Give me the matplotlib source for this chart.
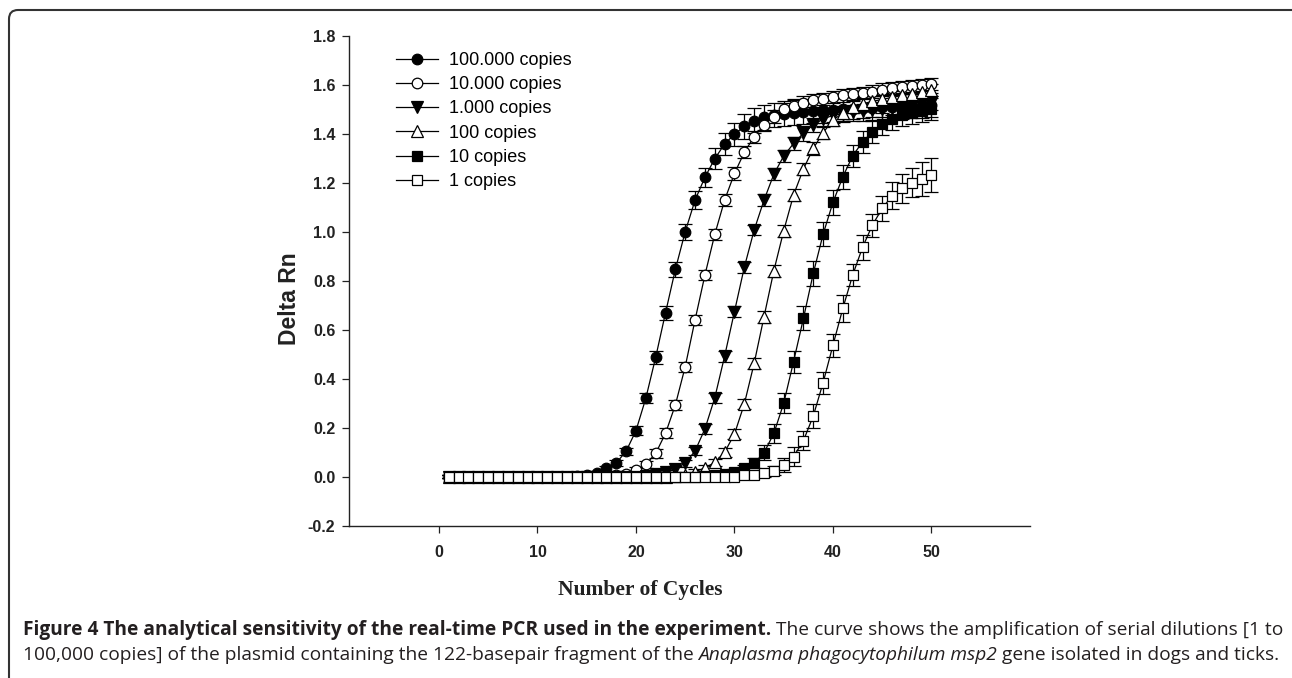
import numpy as np
import matplotlib
matplotlib.use("Agg")
import matplotlib.pyplot as plt
from matplotlib.lines import Line2D
from matplotlib.patches import FancyBboxPatch
from matplotlib.transforms import IdentityTransform

plt.rcParams['axes.unicode_minus'] = False

# cycle numbers
cycles = np.arange(1, 51)

# mean Delta Rn per cycle
rn_100000 = [0, 0, 0, 0, 0, 0, 0, 0, 0, 0,
             0, 0, 0, 0.003, 0.008, 0.016, 0.034, 0.056, 0.104, 0.188,
             0.32, 0.487, 0.669, 0.846, 1.0, 1.129, 1.222, 1.298, 1.358, 1.398,
             1.43, 1.453, 1.467, 1.476, 1.482, 1.486, 1.489, 1.492, 1.495, 1.497,
             1.499, 1.501, 1.503, 1.505, 1.507, 1.509, 1.511, 1.513, 1.515, 1.517]
rn_10000 = [0, 0, 0, 0, 0, 0, 0, 0, 0, 0,
            0, 0, 0, 0, 0, 0, 0.004, 0.008, 0.012, 0.027,
            0.05, 0.095, 0.177, 0.293, 0.449, 0.64, 0.823, 0.989, 1.129, 1.238,
            1.324, 1.388, 1.435, 1.47, 1.5, 1.515, 1.527, 1.536, 1.542, 1.549,
            1.556, 1.561, 1.566, 1.572, 1.58, 1.585, 1.59, 1.594, 1.598, 1.603]
rn_1000 = [0, 0, 0, 0, 0, 0, 0, 0, 0, 0,
           0, 0, 0, 0, 0, 0, 0, 0, 0, 0,
           0.004, 0.01, 0.018, 0.033, 0.055, 0.105, 0.195, 0.322, 0.492, 0.674,
           0.855, 1.007, 1.129, 1.235, 1.309, 1.36, 1.402, 1.436, 1.46, 1.475,
           1.482, 1.488, 1.493, 1.497, 1.5, 1.505, 1.51, 1.515, 1.52, 1.525]
rn_100 = [0, 0, 0, 0, 0, 0, 0, 0, 0, 0,
          0, 0, 0, 0, 0, 0, 0, 0, 0, 0,
          0, 0, 0, 0.003, 0.008, 0.02, 0.036, 0.058, 0.1, 0.174,
          0.297, 0.463, 0.653, 0.841, 1.004, 1.15, 1.256, 1.34, 1.404, 1.456,
          1.484, 1.51, 1.522, 1.532, 1.54, 1.548, 1.556, 1.563, 1.57, 1.578]
rn_10 = [0, 0, 0, 0, 0, 0, 0, 0, 0, 0,
         0, 0, 0, 0, 0, 0, 0, 0, 0, 0,
         0, 0, 0, 0, 0, 0, 0.004, 0.008, 0.012, 0.02,
         0.034, 0.055, 0.098, 0.177, 0.3, 0.47, 0.646, 0.83, 0.99, 1.12,
         1.224, 1.31, 1.366, 1.408, 1.438, 1.462, 1.475, 1.485, 1.492, 1.5]
rn_1 = [0, 0, 0, 0, 0, 0, 0, 0, 0, 0,
        0, 0, 0, 0, 0, 0, 0, 0, 0, 0,
        0, 0, 0, 0, 0, 0, 0, 0, 0, 0,
        0.005, 0.008, 0.014, 0.025, 0.048, 0.082, 0.147, 0.248, 0.384, 0.537,
        0.687, 0.823, 0.936, 1.027, 1.095, 1.147, 1.177, 1.2, 1.215, 1.231]

# error bar half-lengths
err_100000 = [0.005, 0.005, 0.005, 0.005, 0.005, 0.005, 0.005, 0.005, 0.005, 0.005,
              0.005, 0.005, 0.005, 0.008, 0.008, 0.008, 0.01, 0.012, 0.015, 0.018,
              0.02, 0.025, 0.028, 0.03, 0.033, 0.036, 0.04, 0.042, 0.045, 0.047,
              0.05, 0.05, 0.05, 0.05, 0.05, 0.05, 0.05, 0.05, 0.05, 0.05,
              0.05, 0.05, 0.05, 0.05, 0.05, 0.05, 0.05, 0.05, 0.05, 0.05]
err_10000 = [0.005, 0.005, 0.005, 0.005, 0.005, 0.005, 0.005, 0.005, 0.005, 0.005,
             0.005, 0.005, 0.005, 0.005, 0.005, 0.005, 0.008, 0.008, 0.01, 0.012,
             0.015, 0.018, 0.02, 0.02, 0.02, 0.022, 0.022, 0.022, 0.025, 0.025,
             0.025, 0.025, 0.025, 0.025, 0.025, 0.025, 0.025, 0.025, 0.025, 0.025,
             0.025, 0.025, 0.025, 0.025, 0.025, 0.025, 0.025, 0.025, 0.025, 0.025]
err_1000 = [0.005, 0.005, 0.005, 0.005, 0.005, 0.005, 0.005, 0.005, 0.005, 0.005,
            0.005, 0.005, 0.005, 0.005, 0.005, 0.005, 0.005, 0.005, 0.005, 0.005,
            0.008, 0.008, 0.01, 0.012, 0.015, 0.018, 0.02, 0.02, 0.022, 0.022,
            0.022, 0.022, 0.025, 0.025, 0.025, 0.028, 0.03, 0.03, 0.03, 0.03,
            0.03, 0.03, 0.03, 0.03, 0.03, 0.03, 0.03, 0.03, 0.03, 0.03]
err_100 = [0.005, 0.005, 0.005, 0.005, 0.005, 0.005, 0.005, 0.005, 0.005, 0.005,
           0.005, 0.005, 0.005, 0.005, 0.005, 0.005, 0.005, 0.005, 0.005, 0.005,
           0.005, 0.005, 0.005, 0.008, 0.008, 0.01, 0.012, 0.015, 0.018, 0.02,
           0.022, 0.022, 0.025, 0.025, 0.025, 0.025, 0.025, 0.025, 0.025, 0.025,
           0.025, 0.025, 0.025, 0.025, 0.025, 0.025, 0.025, 0.025, 0.025, 0.025]
err_10 = [0.005, 0.005, 0.005, 0.005, 0.005, 0.005, 0.005, 0.005, 0.005, 0.005,
          0.005, 0.005, 0.005, 0.005, 0.005, 0.005, 0.005, 0.005, 0.005, 0.005,
          0.005, 0.005, 0.005, 0.005, 0.005, 0.005, 0.008, 0.008, 0.01, 0.012,
          0.015, 0.02, 0.03, 0.04, 0.04, 0.045, 0.049, 0.05, 0.05, 0.05,
          0.05, 0.045, 0.045, 0.045, 0.045, 0.045, 0.045, 0.045, 0.045, 0.045]
err_1 = [0.005, 0.005, 0.005, 0.005, 0.005, 0.005, 0.005, 0.005, 0.005, 0.005,
         0.005, 0.005, 0.005, 0.005, 0.005, 0.005, 0.005, 0.005, 0.005, 0.005,
         0.005, 0.005, 0.005, 0.005, 0.005, 0.005, 0.005, 0.005, 0.005, 0.005,
         0.008, 0.01, 0.015, 0.02, 0.03, 0.04, 0.04, 0.05, 0.045, 0.047,
         0.055, 0.045, 0.05, 0.047, 0.05, 0.055, 0.058, 0.06, 0.068, 0.068]

labels = ["100.000 copies", "10.000 copies", "1.000 copies",
          "100 copies", "10 copies", "1 copies"]
series = [rn_100000, rn_10000, rn_1000, rn_100, rn_10, rn_1]
errors = [err_100000, err_10000, err_1000, err_100, err_10, err_1]
markers = ["o", "o", "v", "^", "s", "s"]
fills = ["black", "white", "black", "white", "black", "white"]
msizes = [7.6, 7.6, 8.4, 8.4, 7.4, 7.4]

W, H = 1292, 678
fig = plt.figure(figsize=(W / 100, H / 100), dpi=100)
ax = fig.add_axes([349.3 / W, 1 - 525.7 / H, (1030 - 349.3) / W, (525.7 - 35.7) / H])

for vals, err, m, fc, ms in zip(series, errors, markers, fills, msizes):
    ax.errorbar(cycles, vals, yerr=err, fmt='-', marker=m, color='black',
                mfc=fc, mec='black', mew=0.9, ms=ms, lw=0.9,
                elinewidth=0.9, capsize=5, capthick=0.9)

ax.set_xlim(-9.1, 60)
ax.set_ylim(-0.2, 1.8)
ax.set_xticks([0, 10, 20, 30, 40, 50])
yt = np.round(np.arange(-0.2, 1.81, 0.2), 1)
ax.set_yticks(yt)
ax.set_yticklabels([f"{v:.1f}" for v in yt])
for s in ["top", "right"]:
    ax.spines[s].set_visible(False)
for s in ["left", "bottom"]:
    ax.spines[s].set_linewidth(1.0)
    ax.spines[s].set_color("#222222")
ax.tick_params(axis='x', direction='out', length=5, width=0.9, pad=9, colors="#222222")
ax.tick_params(axis='y', direction='out', length=5, width=0.9, pad=5, colors="#222222")
for lab in ax.get_xticklabels() + ax.get_yticklabels():
    lab.set_fontfamily("Liberation Sans")
    lab.set_fontweight("bold")
    lab.set_fontsize(11.5)
    lab.set_color("#222222")

ax.set_ylabel("Delta Rn", family="Liberation Sans", weight="bold", fontsize=16.5, color="#222222")
ax.yaxis.set_label_coords(-0.071, 0.463)

fig.text(640 / W, 1 - 590 / H, "Number of Cycles", family="Liberation Serif",
         weight="bold", fontsize=15.5, ha="center", va="center", color="#222222")

handles = [Line2D([0], [0], color='black', lw=0.9, marker=m, mfc=fc, mec='black',
                  mew=0.9, ms=ms) for m, fc, ms in zip(markers, fills, msizes)]
ax.legend(handles, labels, loc="upper left", bbox_to_anchor=(396 / W, 1 - 52 / H),
          bbox_transform=fig.transFigure, frameon=False, borderpad=0, borderaxespad=0,
          handlelength=2.35, handletextpad=0.6, labelspacing=0.4,
          prop={"family": "Liberation Sans", "size": 13})

# rounded frame around the figure
frame = FancyBboxPatch((9, -60), 1295, 60 + (H - 10), boxstyle="round,pad=0,rounding_size=9",
                       transform=IdentityTransform(), fill=False, lw=1.5, ec="#333333")
fig.patches.append(frame)

# caption with mixed styles
renderer = fig.canvas.get_renderer()
cap_col = "#231f20"
line2 = [("100,000 copies] of the plasmid containing the 122-basepair fragment of the ", "normal", "normal"),
         ("Anaplasma phagocytophilum msp2", "normal", "italic"),
         (" gene isolated in dogs and ticks.", "normal", "normal")]
line1 = [("Figure 4 The analytical sensitivity of the real-time PCR used in the experiment.", "bold", "normal"),
         (" The curve shows the amplification of serial dilutions [1 to", "normal", "normal")]


def draw_runs(x, y, runs, size):
    for txt, wt, st in runs:
        t = fig.text(x, y, txt, transform=IdentityTransform(), family="Open Sans",
                     weight=wt, style=st, fontsize=size, color=cap_col, va="baseline")
        x = t.get_window_extent(renderer).x1
    return x


# fit the caption font size so that line 2 spans the measured width
probe = draw_runs(0, -500, line2, 12)
size = 12 * (1275 - 22.7) / probe
for t in list(fig.texts):
    if t.get_position()[1] == -500:
        t.remove()
draw_runs(22.7, H - 635, line1, size)
draw_runs(22.7, H - 660, line2, size)

fig.savefig("out.png", dpi=100)
